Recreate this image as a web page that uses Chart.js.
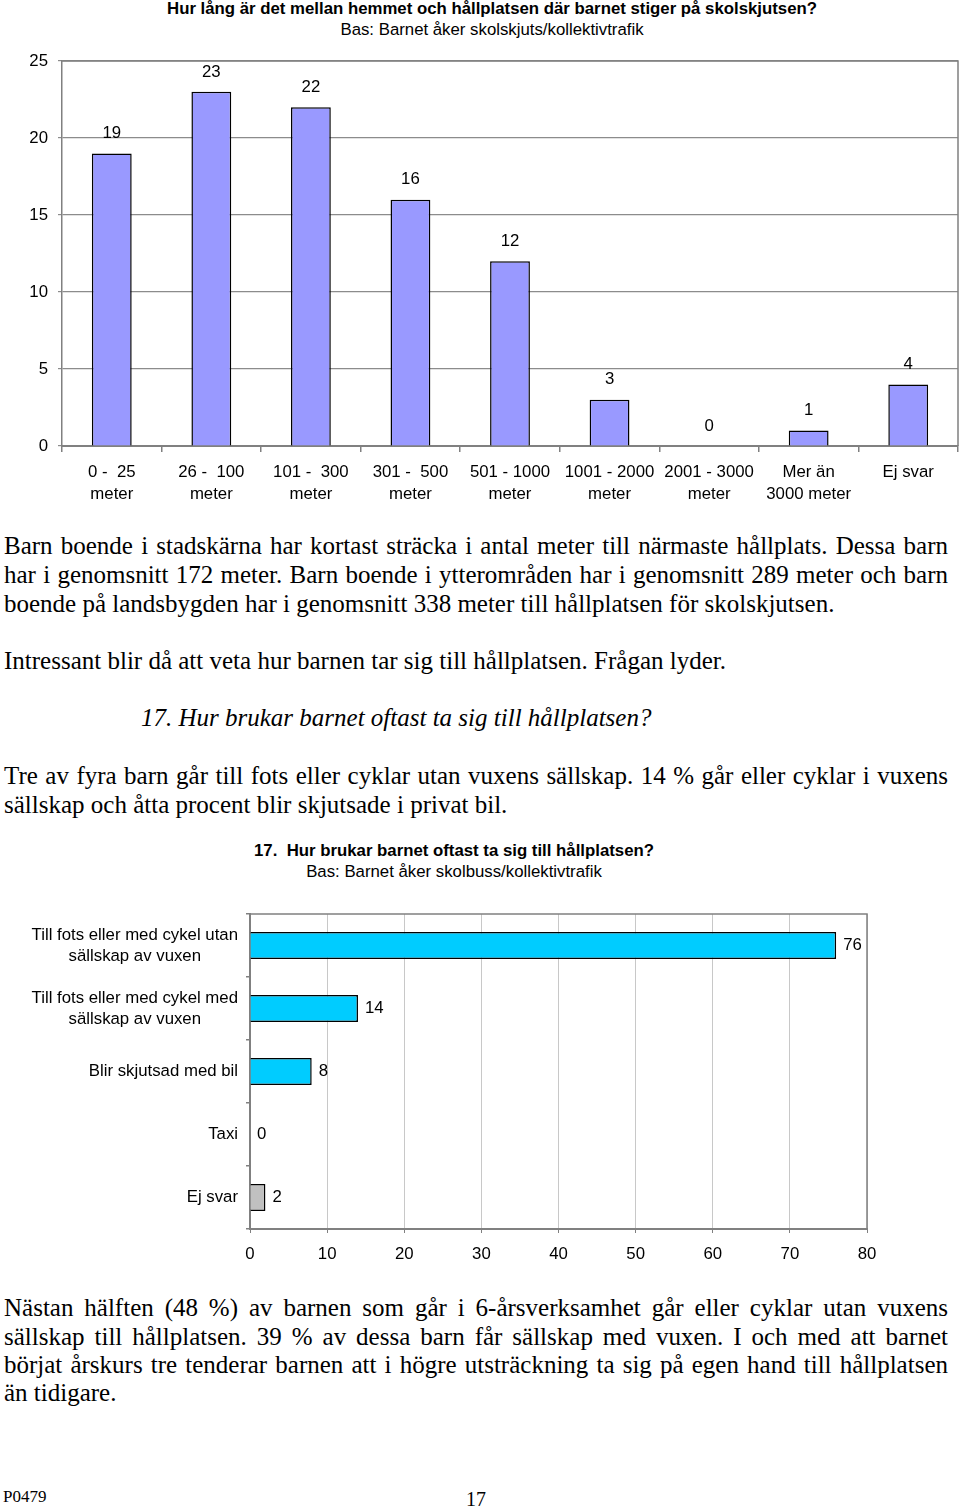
<!DOCTYPE html>
<html><head><meta charset="utf-8">
<script src="https://cdn.jsdelivr.net/npm/chart.js@4"></script>
<style>
body{margin:0;width:960px;height:1508px;position:relative;background:#fff;overflow:hidden}
.t{position:absolute;white-space:nowrap;color:#000}
.sans{font-family:"Liberation Sans",Arial,sans-serif;font-size:16.8px;line-height:20px;transform:translateX(-50%)}
.b{font-weight:bold}
.ser{font-family:"Liberation Serif","Times New Roman",serif;font-size:25px;line-height:29px;height:29px;color:#000}
.j{position:absolute;left:4px;width:944px;text-align:justify;text-align-last:justify;white-space:normal}
.l{position:absolute;left:4px;white-space:nowrap}
canvas{position:absolute;left:0}
</style></head>
<body>
<div class="t sans b" style="left:492px;top:-1px">Hur lång är det mellan hemmet och hållplatsen där barnet stiger på skolskjutsen?</div>
<div class="t sans" style="left:492px;top:20px">Bas: Barnet åker skolskjuts/kollektivtrafik</div>
<div style="position:absolute;left:0;top:41px;width:960px;height:470px"><canvas id="c1"></canvas></div>

<div class="ser j" style="top:531px">Barn boende i stadskärna har kortast sträcka i antal meter till närmaste hållplats. Dessa barn</div>
<div class="ser j" style="top:560px">har i genomsnitt 172 meter. Barn boende i ytterområden har i genomsnitt 289 meter och barn</div>
<div class="ser l" style="top:589px">boende på landsbygden har i genomsnitt 338 meter till hållplatsen för skolskjutsen.</div>
<div class="ser l" style="top:646px">Intressant blir då att veta hur barnen tar sig till hållplatsen. Frågan lyder.</div>
<div class="ser l" style="top:703px;left:141px;font-style:italic">17. Hur brukar barnet oftast ta sig till hållplatsen?</div>
<div class="ser j" style="top:761px">Tre av fyra barn går till fots eller cyklar utan vuxens sällskap. 14 % går eller cyklar i vuxens</div>
<div class="ser l" style="top:790px">sällskap och åtta procent blir skjutsade i privat bil.</div>

<div class="t sans b" style="left:454px;top:841px">17.&nbsp; Hur brukar barnet oftast ta sig till hållplatsen?</div>
<div class="t sans" style="left:454px;top:862px">Bas: Barnet åker skolbuss/kollektivtrafik</div>
<div style="position:absolute;left:0;top:900px;width:960px;height:375px"><canvas id="c2"></canvas></div>

<div class="ser j" style="top:1293px">Nästan hälften (48 %) av barnen som går i 6-årsverksamhet går eller cyklar utan vuxens</div>
<div class="ser j" style="top:1322px">sällskap till hållplatsen. 39 % av dessa barn får sällskap med vuxen. I och med att barnet</div>
<div class="ser j" style="top:1350px">börjat årskurs tre tenderar barnen att i högre utsträckning ta sig på egen hand till hållplatsen</div>
<div class="ser l" style="top:1378px">än tidigare.</div>

<div class="t" style="left:3px;top:1487px;font-family:'Liberation Serif',serif;font-size:17px;line-height:20px">P0479</div>
<div class="t" style="left:466px;top:1488px;font-family:'Liberation Serif',serif;font-size:20px;line-height:22px">17</div>

<script>
const distCategories = [["0 -  25","meter"],["26 -  100","meter"],["101 -  300","meter"],["301 -  500","meter"],["501 - 1000","meter"],["1001 - 2000","meter"],["2001 - 3000","meter"],["Mer än","3000 meter"],"Ej svar"];
const distValues = [19,23,22,16,12,3,0,1,4];
const distTickMax = 25;
const distTickStep = 5;

const modeCategories = [["Till fots eller med cykel utan","sällskap av vuxen"],["Till fots eller med cykel med","sällskap av vuxen"],"Blir skjutsad med bil","Taxi","Ej svar"];
const modeValues = [76,14,8,0,2];
const modeColors = ["#00CCFF","#00CCFF","#00CCFF","#00CCFF","#C0C0C0"];
const modeTickMax = 80;
const modeTickStep = 10;

const FONT = '"Liberation Sans", Arial, sans-serif';
const FS = 16.8;
Chart.defaults.font.family = FONT;
Chart.defaults.font.size = FS;
Chart.defaults.color = '#000';
Chart.defaults.animation = false;

const borderPlugin = {
  id:'plotBorder',
  afterDatasetsDraw(chart, args, opts){
    const {ctx, chartArea:a} = chart;
    ctx.save();
    ctx.strokeStyle = opts.color || '#808080';
    ctx.lineWidth = opts.width || 1.5;
    ctx.beginPath();
    ctx.moveTo(a.left, a.top); ctx.lineTo(a.right, a.top); ctx.lineTo(a.right, a.bottom);
    ctx.stroke();
    ctx.restore();
  }
};

const topLabels = {
  id:'topLabels',
  afterDatasetsDraw(chart){
    const {ctx} = chart;
    const meta = chart.getDatasetMeta(0);
    ctx.save();
    ctx.font = FS + 'px ' + FONT;
    ctx.fillStyle = '#000';
    ctx.textAlign = 'center';
    ctx.textBaseline = 'middle';
    meta.data.forEach((bar, i) => {
      ctx.fillText(String(chart.data.datasets[0].data[i]), bar.x, bar.y - 20);
    });
    ctx.restore();
  }
};

new Chart(document.getElementById('c1'), {
  type:'bar',
  data:{labels:distCategories, datasets:[{data:distValues, backgroundColor:'#9999FF', borderColor:'#000', borderWidth:1.5, barPercentage:0.4, categoryPercentage:1}]},
  options:{
    responsive:true, maintainAspectRatio:false,
    layout:{padding:{top:19,right:2,left:0,bottom:0}},
    plugins:{legend:{display:false}, tooltip:{enabled:false}, title:{display:false}, plotBorder:{color:'#808080',width:1.5}},
    scales:{
      x:{
        grid:{display:true, drawOnChartArea:false, drawTicks:true, tickLength:6, color:'#808080', lineWidth:1.5},
        border:{color:'#808080', width:2},
        ticks:{padding:9, maxRotation:0, autoSkip:false, font:{size:FS, lineHeight:1.31}},
        afterFit(s){ s.height = 65; }
      },
      y:{
        min:0, max:distTickMax,
        grid:{color:'#8c8c8c', lineWidth:1.2, tickLength:4},
        border:{color:'#808080', width:1.5},
        ticks:{stepSize:distTickStep, padding:10, font:{size:FS}},
        afterFit(s){ s.width = 62; }
      }
    }
  },
  plugins:[borderPlugin, topLabels]
});

const rightLabels = {
  id:'rightLabels',
  afterDatasetsDraw(chart){
    const {ctx} = chart;
    const meta = chart.getDatasetMeta(0);
    ctx.save();
    ctx.font = FS + 'px ' + FONT;
    ctx.fillStyle = '#000';
    ctx.textAlign = 'left';
    ctx.textBaseline = 'middle';
    meta.data.forEach((bar, i) => {
      ctx.fillText(String(chart.data.datasets[0].data[i]), bar.x + 7, bar.y);
    });
    ctx.restore();
  }
};

const catLabels = {
  id:'catLabels',
  afterDraw(chart){
    const {ctx} = chart;
    const ys = chart.scales.y;
    ctx.save();
    ctx.font = FS + 'px ' + FONT;
    ctx.fillStyle = '#000';
    ctx.textBaseline = 'middle';
    ctx.textAlign = 'center';
    const right = ys.right - 12;
    chart.data.labels.forEach((lab, i) => {
      const lines = Array.isArray(lab) ? lab : [lab];
      const w = Math.max(...lines.map(l => ctx.measureText(l).width));
      const cx = right - w/2;
      const y0 = ys.getPixelForTick(i) - (lines.length - 1) * 21 / 2;
      lines.forEach((l, k) => ctx.fillText(l, cx, y0 + k * 21));
    });
    ctx.restore();
  }
};

new Chart(document.getElementById('c2'), {
  type:'bar',
  data:{labels:modeCategories, datasets:[{data:modeValues, backgroundColor:modeColors, borderColor:'#000', borderWidth:1.5, barPercentage:0.43, categoryPercentage:1}]},
  options:{
    indexAxis:'y',
    responsive:true, maintainAspectRatio:false,
    layout:{padding:{top:14,right:93,left:0,bottom:0}},
    plugins:{legend:{display:false}, tooltip:{enabled:false}, plotBorder:{color:'#808080',width:1.5}},
    scales:{
      x:{
        min:0, max:modeTickMax,
        grid:{color:'#C8C8C8', lineWidth:1, tickLength:4, tickColor:'#808080'},
        border:{color:'#808080', width:2},
        ticks:{stepSize:modeTickStep, padding:11, font:{size:FS}},
        afterFit(s){ s.height = 46; }
      },
      y:{
        grid:{display:true, drawOnChartArea:false, tickLength:4, color:'#808080', lineWidth:1.5},
        border:{color:'#808080', width:2},
        ticks:{display:false},
        afterFit(s){ s.width = 250; }
      }
    }
  },
  plugins:[borderPlugin, rightLabels, catLabels]
});
</script>
</body></html>
